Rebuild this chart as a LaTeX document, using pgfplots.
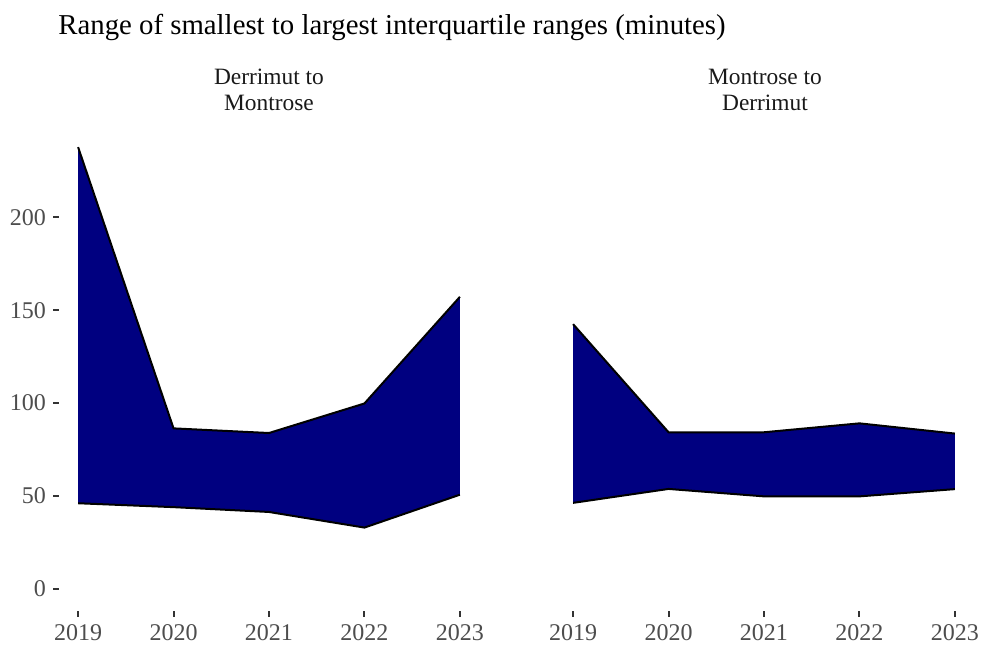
\documentclass[border=0pt]{standalone}
\usepackage{fontspec}
\setmainfont{Liberation Serif}
\usepackage{pgfplots}
\pgfplotsset{compat=1.18}
\usepgfplotslibrary{fillbetween}
\definecolor{navyfill}{HTML}{000080}
\definecolor{ticklab}{HTML}{4D4D4D}
\definecolor{tickmark}{HTML}{333333}

% year, upper and lower interquartile range
\pgfplotstableread{
year up lo
2019 237.8 46.1
2020 86.4 44.0
2021 83.9 41.4
2022 99.8 33.0
2023 157.2 50.7
}\dermon
\pgfplotstableread{
year up lo
2019 142.5 46.3
2020 84.3 53.8
2021 84.3 49.8
2022 89.1 49.8
2023 83.6 53.7
}\mondem

\pgfplotsset{
  panel/.style={
    scale only axis, width=210pt, height=243pt,
    xmin=2018.8, xmax=2023.2, ymin=-11.9, ymax=249.7,
    axis line style={draw=none},
    xtick={2019,2020,2021,2022,2023},
    ytick={0,50,100,150,200},
    tick align=outside, major tick length=3pt,
    tick style={tickmark, line width=1pt},
    x tick label style={/pgf/number format/1000 sep={}},
    tick label style={font=\fontsize{12}{14}\selectfont, text=ticklab},
    /pgf/number format/assume math mode=true,
    xtick pos=bottom, ytick pos=left,
    clip=false,
  },
}

\begin{document}
\begin{tikzpicture}
\begin{axis}[panel, at={(0,0)}, anchor=south west]
  \addplot[name path=up, draw=none] table[x=year, y=up] {\dermon};
  \addplot[name path=lo, draw=none] table[x=year, y=lo] {\dermon};
  \addplot[navyfill] fill between[of=up and lo];
  \addplot[black, line width=1pt] table[x=year, y=up] {\dermon};
  \addplot[black, line width=1pt] table[x=year, y=lo] {\dermon};
\end{axis}
\begin{axis}[panel, at={(247.5pt,0)}, anchor=south west, ytick=\empty]
  \addplot[name path=up, draw=none] table[x=year, y=up] {\mondem};
  \addplot[name path=lo, draw=none] table[x=year, y=lo] {\mondem};
  \addplot[navyfill] fill between[of=up and lo];
  \addplot[black, line width=1pt] table[x=year, y=up] {\mondem};
  \addplot[black, line width=1pt] table[x=year, y=lo] {\mondem};
\end{axis}
\node[anchor=base west, inner sep=0pt, font=\fontsize{14.4}{16}\selectfont]
  at (-0.5pt,288pt) {Range of smallest to largest interquartile ranges (minutes)};
\begin{scope}[every node/.style={anchor=base, inner sep=0pt, font=\fontsize{11.7}{13}\selectfont, text=black!90}]
  \node at (105pt,263pt) {Derrimut to};
  \node at (105pt,250pt) {Montrose};
  \node at (353pt,263pt) {Montrose to};
  \node at (353pt,250pt) {Derrimut};
\end{scope}
\path (-29.5pt,-21pt) rectangle (464pt,305.5pt);
\end{tikzpicture}
\end{document}
